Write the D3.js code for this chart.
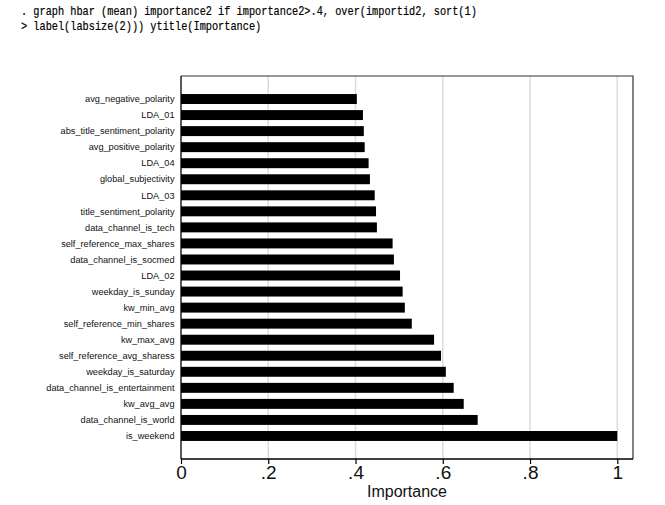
<!DOCTYPE html>
<html><head><meta charset="utf-8">
<script src="https://cdn.jsdelivr.net/npm/d3@7"></script>
<style>body{margin:0;background:#fff}svg{display:block}</style>
</head><body>
<script>
const categories = ["avg_negative_polarity","LDA_01","abs_title_sentiment_polarity","avg_positive_polarity","LDA_04","global_subjectivity","LDA_03","title_sentiment_polarity","data_channel_is_tech","self_reference_max_shares","data_channel_is_socmed","LDA_02","weekday_is_sunday","kw_min_avg","self_reference_min_shares","kw_max_avg","self_reference_avg_sharess","weekday_is_saturday","data_channel_is_entertainment","kw_avg_avg","data_channel_is_world","is_weekend"];
const importance = [0.403,0.417,0.419,0.421,0.430,0.433,0.444,0.447,0.449,0.485,0.488,0.502,0.508,0.513,0.529,0.580,0.596,0.607,0.625,0.648,0.680,1.0];
const tickValues = [0,0.2,0.4,0.6,0.8,1];
const tickLabels = ["0",".2",".4",".6",".8","1"];
const commandLines = [". graph hbar (mean) importance2 if importance2>.4, over(importid2, sort(1)", "> label(labsize(2))) ytitle(Importance)"];
const axisTitle = "Importance";

(function(){
const W = 665, H = 505;
const svg = d3.select("body").append("svg").attr("width", W).attr("height", H);
const pL = 181, pR = 633, pT = 76, pB = 459;

// command text
svg.selectAll("text.cmd").data(commandLines).enter().append("text")
  .attr("class","cmd")
  .attr("x", 21).attr("y", (d,i)=>14.5 + i*15.2)
  .attr("font-family","'Liberation Mono', 'DejaVu Sans Mono', monospace")
  .attr("font-size", 12.2)
  .attr("textLength", d => d.length*6.16)
  .attr("lengthAdjust","spacingAndGlyphs")
  .attr("fill","#000").attr("stroke","#000").attr("stroke-width",0.2)
  .text(d=>d);

const x = d3.scaleLinear().domain([0,1]).range([pL, 617.3]);
const y = d3.scaleBand().domain(categories).range([91, 444]).paddingInner(0.38).paddingOuter(0.19);

// gridlines
svg.append("g").selectAll("line").data(tickValues.filter(v=>v>0)).enter().append("line")
  .attr("x1", d=>x(d)).attr("x2", d=>x(d)).attr("y1", pT).attr("y2", pB)
  .attr("stroke","#dcdcdc").attr("stroke-width",1.5);

// frame (top, right)
svg.append("path")
  .attr("d", `M${pL},${pT}H${pR}V${pB}`)
  .attr("fill","none").attr("stroke","#333").attr("stroke-width",1.2);

// bars
svg.append("g").selectAll("rect").data(categories).enter().append("rect")
  .attr("x", x(0)).attr("y", d=>y(d))
  .attr("width", (d,i)=>x(importance[i]) - x(0))
  .attr("height", y.bandwidth())
  .attr("fill","#000");

// y labels
svg.append("g").selectAll("text").data(categories).enter().append("text")
  .attr("x", 174.5).attr("y", d=>y(d)+y.bandwidth()/2)
  .attr("dy","0.35em").attr("text-anchor","end")
  .attr("font-family","'Liberation Sans', Arial, sans-serif")
  .attr("font-size", 9.2).attr("fill","#111")
  .text(d=>d);

// left axis line
svg.append("line").attr("x1",pL).attr("x2",pL).attr("y1",pT).attr("y2",pB)
  .attr("stroke","#000").attr("stroke-width",1.3);

// x axis
const xAxis = d3.axisBottom(x).tickValues(tickValues).tickFormat((d,i)=>tickLabels[i]).tickSize(5).tickPadding(2).tickSizeOuter(0);
const gx = svg.append("g").attr("transform",`translate(0,${pB})`).call(xAxis);
gx.select(".domain").attr("stroke","#000").attr("stroke-width",1.3).attr("d", `M${pL},0H${pR}`);
gx.selectAll(".tick line").attr("stroke","#000").attr("stroke-width",1.2);
gx.selectAll(".tick text").attr("font-family","'Liberation Sans', Arial, sans-serif")
  .attr("font-size",19).attr("fill","#111");

svg.append("text").attr("x",(pL+pR)/2).attr("y",497)
  .attr("text-anchor","middle")
  .attr("font-family","'Liberation Sans', Arial, sans-serif")
  .attr("font-size",16).attr("fill","#111")
  .text(axisTitle);
})();
</script>
</body></html>
